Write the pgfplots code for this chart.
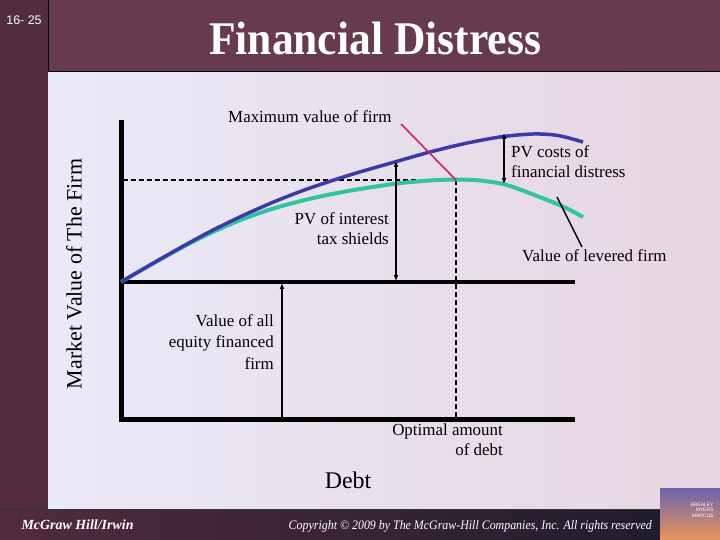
\documentclass[border=0pt]{standalone}
\usepackage{pgfplots}
\pgfplotsset{compat=1.18}
\usepackage{graphicx}
\usepackage{fontspec}
\setmainfont{Liberation Serif}
\newfontfamily\arialfont{Liberation Sans}
\usetikzlibrary{arrows.meta}
\definecolor{stripcol}{RGB}{81,45,61}
\definecolor{titlecol}{RGB}{103,58,80}
\definecolor{bgleft}{RGB}{235,234,248}
\definecolor{bgright}{RGB}{230,213,225}
\definecolor{footleft}{RGB}{80,44,62}
\definecolor{footright}{RGB}{28,27,43}
\definecolor{bluecurve}{RGB}{60,58,170}
\definecolor{greencurve}{RGB}{50,196,160}
\definecolor{pinkline}{RGB}{210,30,110}
\tikzset{lbl/.style={font=\fontsize{17}{20.5}\selectfont,inner sep=0pt}}
\begin{document}
\begin{tikzpicture}[x=1bp,y=1bp]
\useasboundingbox (0,0) rectangle (720,540);
% slide frame (image y -> 540 - y)
\fill[left color=bgleft,right color=bgright] (48,30) rectangle (720,468);
\fill[stripcol] (0,30) rectangle (48,540);
\fill[titlecol] (48,468) rectangle (720,540);
\draw[black,line width=1bp] (48,468) -- (720,468);
\draw[black,line width=1bp] (48,468) -- (48,540);
\fill[left color=footleft,right color=footright] (0,0) rectangle (720,30);
\draw[black!80,line width=1bp] (0,30) -- (660,30);
\fill[top color={rgb,255:red,110;green,100;blue,170},bottom color={rgb,255:red,235;green,150;blue,90}] (660,0) rectangle (720,51);
\node[white,font=\arialfont\fontsize{5}{5.5}\selectfont,align=right,anchor=east] at (717,30) {BREALEY\\MYERS\\MARCUS};
\node[white,font=\arialfont\fontsize{12.5}{14}\selectfont,anchor=base] at (24,515) {16- 25};
\node[white,anchor=base] at (375,485) {\scalebox{0.93}[1]{\fontsize{47}{50}\selectfont\bfseries Financial Distress}};
\node[white,anchor=base west,font=\fontsize{14}{16}\selectfont\bfseries\itshape] at (18,10) {McGraw Hill/Irwin};
\node[white,anchor=base east,inner sep=0pt] at (652,10) {\scalebox{0.92}[1]{\fontsize{13}{15}\selectfont\itshape Copyright \textcopyright{} 2009 by The McGraw-Hill Companies, Inc. All rights reserved}};

\begin{axis}[at={(0,0)},anchor=south west,width=720bp,height=540bp,scale only axis,
  xmin=0,xmax=720,ymin=0,ymax=540,y dir=reverse,axis lines=none,clip=false]
% axes of the chart
\addplot[black,line width=5bp,line cap=rect] coordinates {(121,123) (121,419)};
\addplot[black,line width=5bp] coordinates {(119,419) (575,419)};
\addplot[black,line width=3.5bp] coordinates {(121,282) (575,282)};
% dashed guides
\addplot[black,line width=1.8bp,dash pattern=on 5bp off 3bp] coordinates {(123,180) (456,180)};
\addplot[black,line width=1.8bp,dash pattern=on 5bp off 3bp] coordinates {(456,180) (456,417)};
% value of levered firm
\addplot[greencurve,line width=4bp,smooth] coordinates {
(121,282) (150,265.3) (182,247.5) (210,233.3) (243,219) (275,208) (310,198.8) (348,191) (397,183.5)
(430,180.5) (456,179.5) (480,180.5) (503,184) (520,189.5) (537,196) (563,206.5) (583,217)};
% value with tax shields
\addplot[bluecurve,line width=3.5bp,smooth] coordinates {
(121,282) (150,265) (182,246.8) (210,231.6) (243,215.5) (276,201) (310,188) (353,174)
(400,160.5) (430,152) (465,143.5) (500,137) (533,134) (558,135.5) (583,142)};
% pointers and arrows
\addplot[pinkline,line width=1.6bp] coordinates {(401,124) (456,180)};
\addplot[black,line width=1.5bp] coordinates {(557,197) (582,247)};
\addplot[black,line width=1.5bp,-{Latex[length=6bp,width=5bp]}] coordinates {(282,417) (282,283)};
\addplot[black,line width=1.5bp,{Latex[length=6bp,width=5bp]}-{Latex[length=6bp,width=5bp]}] coordinates {(396,161) (396,281)};
\addplot[black,line width=1.5bp,{Latex[length=6bp,width=5bp]}-{Latex[length=6bp,width=5bp]}] coordinates {(504,133) (504,184)};
% labels
\node[lbl,anchor=base west] at (axis cs:228,123) {Maximum value of firm};
\node[lbl,anchor=base west] at (axis cs:511,158) {PV costs of};
\node[lbl,anchor=base west] at (axis cs:511,178) {financial distress};
\node[lbl,anchor=base east] at (axis cs:389,225) {PV of interest};
\node[lbl,anchor=base east] at (axis cs:389,245) {tax shields};
\node[lbl,anchor=base west] at (axis cs:522,262) {Value of levered firm};
\node[lbl,anchor=base east] at (axis cs:274,327) {Value of all};
\node[lbl,anchor=base east] at (axis cs:274,348) {equity financed};
\node[lbl,anchor=base east] at (axis cs:274,369) {firm};
\node[lbl,anchor=base east] at (axis cs:503,435) {Optimal amount};
\node[lbl,anchor=base east] at (axis cs:503,455) {of debt};
\node[anchor=base,font=\fontsize{24}{28}\selectfont] at (axis cs:348,488) {Debt};
\node[rotate=90,anchor=center,font=\fontsize{22}{26}\selectfont] at (axis cs:74,274) {Market Value of The Firm};
\end{axis}
\end{tikzpicture}
\end{document}
